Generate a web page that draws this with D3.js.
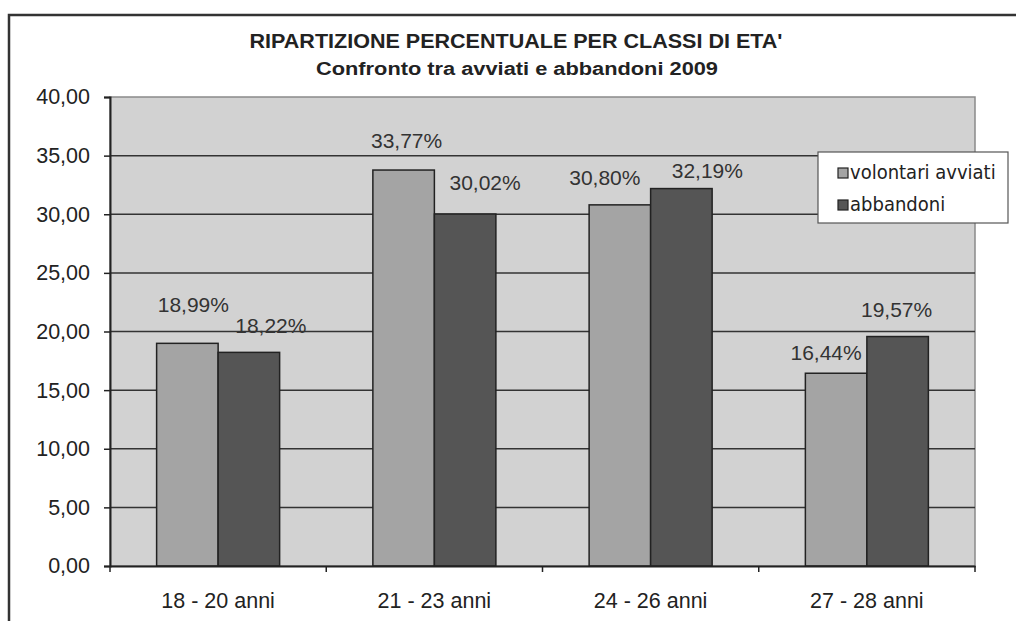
<!DOCTYPE html>
<html><head><meta charset="utf-8">
<script src="https://cdn.jsdelivr.net/npm/d3@7/dist/d3.min.js"></script>
<style>
html,body{margin:0;padding:0;background:#fff;}
svg{display:block;}
text{font-family:Arial,"Liberation Sans",sans-serif;fill:#222;}
</style></head>
<body>
<svg id="c" width="1016" height="621"></svg>
<script>
const categories = ["18 - 20 anni", "21 - 23 anni", "24 - 26 anni", "27 - 28 anni"];
const seriesNames = ["volontari avviati", "abbandoni"];
const volontariAvviati = [18.99, 33.77, 30.80, 16.44];
const abbandoni = [18.22, 30.02, 32.19, 19.57];
const yTicks = [0, 5, 10, 15, 20, 25, 30, 35, 40];
const titleText = "RIPARTIZIONE PERCENTUALE PER CLASSI DI ETA'";
const subtitleText = "Confronto tra avviati  e abbandoni 2009";

// label nudges (dx, dy in px relative to bar centre / top), as placed in the original
const labelNudge = [
  [[6,-31],[22,-19]],
  [[3,-22],[20,-24]],
  [[-15,-20],[26,-11]],
  [[-10,-13],[-1,-20]]
];

const seriesColors = ["#a4a4a4", "#555555"];
const plot = {left:110, top:97, right:975, bottom:566};

const svg = d3.select("#c");
const fmt = v => d3.format(".2f")(v).replace(".", ",");

// outer frame
svg.append("rect").attr("x",9).attr("y",15).attr("width",1030).attr("height",640)
  .attr("fill","#fff").attr("stroke","#333").attr("stroke-width",2.5);

// titles
svg.append("text").attr("x",516).attr("y",48).attr("text-anchor","middle")
  .style("font-weight","bold").style("font-size","21px")
  .attr("textLength",533).attr("lengthAdjust","spacingAndGlyphs").text(titleText);
svg.append("text").attr("x",517).attr("y",75).attr("text-anchor","middle")
  .style("font-weight","bold").style("font-size","18px")
  .attr("textLength",402).attr("lengthAdjust","spacingAndGlyphs").text(subtitleText);

const x0 = d3.scaleBand().domain(categories).range([plot.left, plot.right]).padding(0);
const x1 = d3.scaleBand().domain(seriesNames).range([0, x0.bandwidth()]).paddingInner(0).paddingOuter(0.758);
const y = d3.scaleLinear().domain([0,40]).range([plot.bottom, plot.top]);

// plot background
svg.append("rect").attr("x",plot.left).attr("y",plot.top)
  .attr("width",plot.right-plot.left).attr("height",plot.bottom-plot.top)
  .attr("fill","#d2d2d2").attr("stroke","#8a8a8a").attr("stroke-width",1.5);

// gridlines
svg.append("g").selectAll("line").data(yTicks.filter(d=>d>0 && d<40)).join("line")
  .attr("x1",plot.left).attr("x2",plot.right)
  .attr("y1",d=>y(d)).attr("y2",d=>y(d))
  .attr("stroke","#333").attr("stroke-width",1.5);

// bars
const rows = categories.map((c,i)=>({cat:c, i, vals:[volontariAvviati[i], abbandoni[i]]}));
const g = svg.append("g").selectAll("g").data(rows).join("g")
  .attr("transform",d=>`translate(${x0(d.cat)},0)`);
g.selectAll("rect").data(d=>d.vals.map((v,j)=>({v,j,s:seriesNames[j]}))).join("rect")
  .attr("x",d=>x1(d.s)).attr("width",x1.bandwidth())
  .attr("y",d=>y(d.v)).attr("height",d=>y(0)-y(d.v))
  .attr("fill",d=>seriesColors[d.j]).attr("stroke","#222").attr("stroke-width",1.5);

// value labels
g.selectAll("text").data(d=>d.vals.map((v,j)=>({v,j,s:seriesNames[j],i:d.i}))).join("text")
  .attr("x",d=>x1(d.s)+x1.bandwidth()/2+labelNudge[d.i][d.j][0])
  .attr("y",d=>y(d.v)+labelNudge[d.i][d.j][1])
  .attr("text-anchor","middle").style("font-size","21px").style("fill","#333")
  .text(d=>fmt(d.v)+"%");

// y axis
const yAxis = d3.axisLeft(y).tickValues(yTicks).tickFormat(fmt).tickSize(6).tickPadding(14);
const ya = svg.append("g").attr("transform",`translate(${plot.left},0)`).call(yAxis);
ya.select(".domain").attr("stroke","#222").attr("stroke-width",2);
ya.selectAll(".tick line").attr("stroke","#222").attr("stroke-width",1.5);
ya.selectAll(".tick text").style("font-size","21.5px").style("font-family","Arial,'Liberation Sans',sans-serif").attr("fill","#222");

// x axis
const xAxis = d3.axisBottom(x0).tickSize(0).tickPadding(27);
const xa = svg.append("g").attr("transform",`translate(0,${plot.bottom})`).call(xAxis);
xa.select(".domain").attr("stroke","#222").attr("stroke-width",2);
xa.selectAll(".tick text").style("font-size","21.5px").style("font-family","Arial,'Liberation Sans',sans-serif").attr("fill","#222");
// category separator ticks
xa.append("g").selectAll("line").data(categories.concat([null])).join("line")
  .attr("x1",(d,i)=> i<categories.length ? x0(d) : plot.right)
  .attr("x2",(d,i)=> i<categories.length ? x0(d) : plot.right)
  .attr("y1",0).attr("y2",6).attr("stroke","#222").attr("stroke-width",1.5);

// legend
const lg = svg.append("g").attr("transform","translate(818,152)");
lg.append("rect").attr("width",190).attr("height",71).attr("fill","#fff").attr("stroke","#555").attr("stroke-width",1.2);
const li = lg.selectAll("g").data(seriesNames).join("g").attr("transform",(d,i)=>`translate(20,${16+i*32})`);
li.append("rect").attr("width",10).attr("height",10).attr("fill",(d,i)=>seriesColors[i]).attr("stroke","#222").attr("stroke-width",1.2);
li.append("text").attr("x",12).attr("y",11).style("font-size","20px")
  .style("font-family","'Liberation Sans Narrow','DejaVu Sans Condensed',Lato,sans-serif")
  .text(d=>d);
</script>
</body></html>
